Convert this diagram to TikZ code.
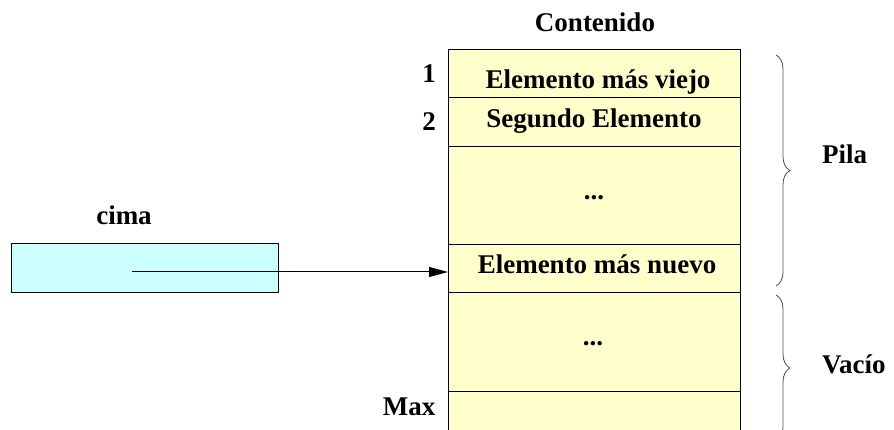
\documentclass[tikz,border=0pt]{standalone}
\usepackage{fontspec}
\setmainfont{Liberation Serif}
\usetikzlibrary{arrows.meta,decorations.pathreplacing}
\definecolor{cellyellow}{RGB}{255,255,204}
\definecolor{cellcyan}{RGB}{204,255,255}
\begin{document}
\begin{tikzpicture}[x=1pt,y=-1pt,
  cell/.style={draw=black,line width=1pt,fill=cellyellow},
  lbl/.style={anchor=base,inner sep=0pt,font=\fontsize{27}{32}\selectfont\bfseries},
  brc/.style={draw=black!70,line width=0.8pt,decorate,decoration={brace,amplitude=14pt}}]
\useasboundingbox (0,0) rectangle (894,430);
\clip (0,0) rectangle (894,430);
% stack cells
\draw[cell] (448,50) rectangle (740,98);
\draw[cell] (448,98) rectangle (740,147);
\draw[cell] (448,147) rectangle (740,245);
\draw[cell] (448,245) rectangle (740,293);
\draw[cell] (448,293) rectangle (740,391);
\draw[cell] (448,391) rectangle (740,445);
\coordinate (nuevoW) at (448,272);
% cima box
\draw[draw=black,line width=1pt,fill=cellcyan] (11,244) rectangle (278,293);
\coordinate (cimaptr) at (132,272);
% texts
\node[lbl] (cont) at (595,32) {Contenido};
\node[lbl] (one) at (429,83) {1};
\node[lbl] (two) at (429,131) {2};
\node[lbl] (viejo) at (598,89) {Elemento más viejo};
\node[lbl] (segundo) at (594,128) {Segundo Elemento};
\node[lbl] (dotsA) at (594,200) {...};
\node[lbl] (nuevo) at (597,274) {Elemento más nuevo};
\node[lbl] (dotsB) at (593,345) {...};
\node[lbl] (max) at (409,415) {Max};
\node[lbl] (cima) at (124,225) {cima};
\node[lbl,anchor=base west] (pila) at (822,164) {Pila};
\node[lbl,anchor=base west] (vacio) at (822,373) {Vacío};
% arrow
\draw[line width=1pt,-{Triangle[length=19pt,width=10pt]}] (cimaptr) -- (nuevoW);
% braces
\draw[brc] (776,55) -- (776,286);
\draw[brc] (776,295) -- (776,441);
\end{tikzpicture}
\end{document}
